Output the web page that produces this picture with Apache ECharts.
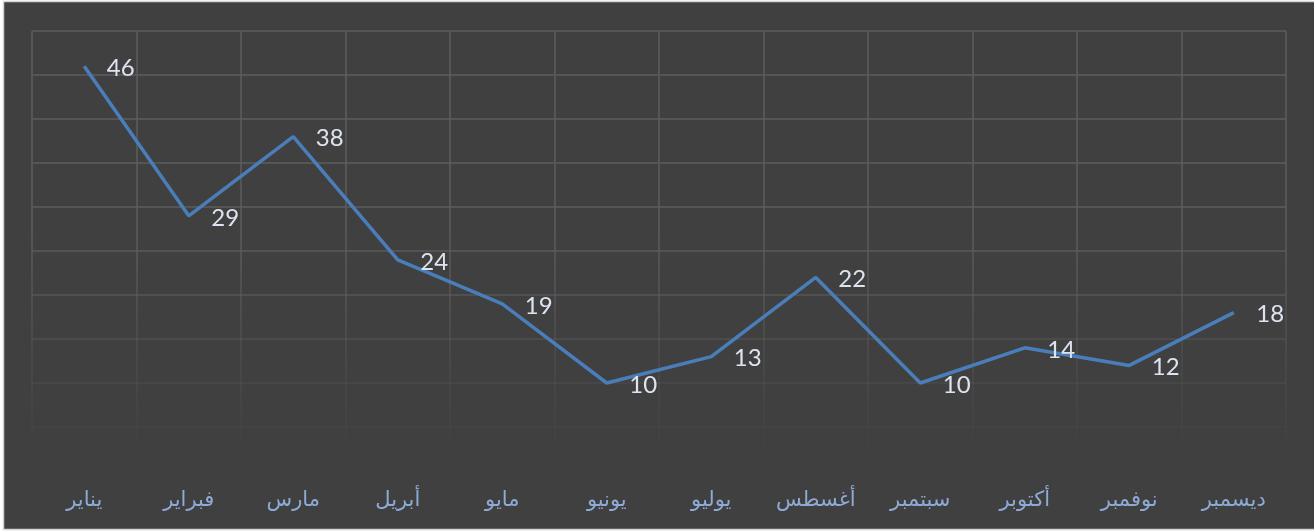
<!DOCTYPE html>
<html>
<head>
<meta charset="utf-8">
<script src="https://cdn.jsdelivr.net/npm/echarts@6/dist/echarts.min.js"></script>
<style>
html,body{margin:0;padding:0;background:#ffffff;}
#c{width:1314px;height:532px;}
</style>
</head>
<body>
<div id="c"></div>
<script>
const categories = ['يناير','فبراير','مارس','أبريل','مايو','يونيو','يوليو','أغسطس','سبتمبر','أكتوبر','نوفمبر','ديسمبر'];
const values = [46, 29, 38, 24, 19, 10, 13, 22, 10, 14, 12, 18];
const yMin = 0, yMax = 50, yInterval = 5;

const chart = echarts.init(document.getElementById('c'), null, {renderer: 'canvas'});
const gridTop = 31, gridBottomPx = 471;
const gridGrad = {
  type: 'linear', global: true, x: 0, y: gridTop, x2: 0, y2: gridBottomPx,
  colorStops: [
    {offset: 0, color: 'rgba(92,92,92,1)'},
    {offset: 0.45, color: 'rgba(92,92,92,1)'},
    {offset: 0.6, color: 'rgba(92,92,92,0.75)'},
    {offset: 0.75, color: 'rgba(92,92,92,0.4)'},
    {offset: 0.9, color: 'rgba(92,92,92,0.12)'},
    {offset: 0.97, color: 'rgba(92,92,92,0)'},
    {offset: 1, color: 'rgba(92,92,92,0)'}
  ]
};
chart.setOption({
  backgroundColor: '#ffffff',
  animation: false,
  graphic: [{
    type: 'rect', z: -10, silent: true,
    shape: {x: 3.5, y: 1.5, width: 1330, height: 528},
    style: {fill: '#404040', stroke: '#d4d4d4', lineWidth: 1.5}
  }],
  grid: {left: 32, right: 28, top: gridTop, bottom: 532 - gridBottomPx},
  xAxis: {
    type: 'category',
    data: categories,
    boundaryGap: true,
    axisLine: {show: false},
    axisTick: {show: false},
    axisLabel: {color: '#8eaad6', fontFamily: 'DejaVu Sans', fontSize: 21, margin: 19},
    splitLine: {show: true, lineStyle: {color: gridGrad, width: 1.5}}
  },
  yAxis: {
    type: 'value',
    min: yMin, max: yMax, interval: yInterval,
    axisLine: {show: false},
    axisTick: {show: false},
    axisLabel: {show: false},
    splitLine: {show: true, lineStyle: {color: gridGrad, width: 1.5}}
  },
  series: [{
    type: 'line',
    data: values,
    symbol: 'circle',
    symbolSize: 1,
    showSymbol: true,
    itemStyle: {color: 'rgba(0,0,0,0)'},
    lineStyle: {color: '#4a7ebb', width: 3.5},
    label: {
      show: true, position: 'right', distance: 22, offset: [0, 2],
      color: '#dde4f0', fontFamily: 'Lato', fontSize: 24
    },
    emphasis: {disabled: true}
  }]
});
</script>
</body>
</html>
